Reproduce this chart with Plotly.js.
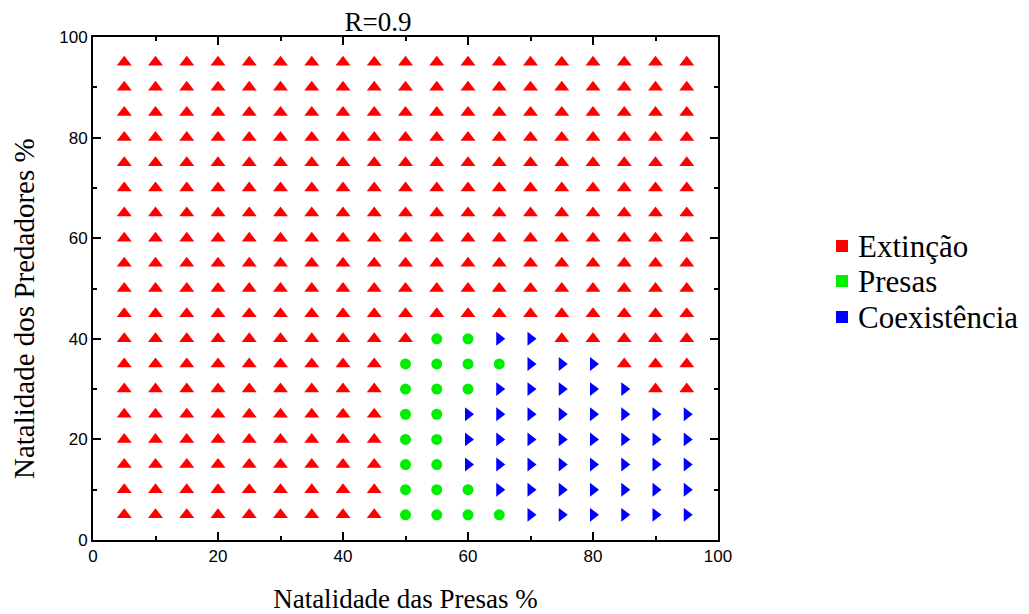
<!DOCTYPE html>
<html>
<head>
<meta charset="utf-8">
<script src="https://cdn.plot.ly/plotly-3.0.1.min.js"></script>
<style>html,body{margin:0;padding:0;background:#fff;}#chart{width:1029px;height:614px;}</style>
</head>
<body>
<div id="chart"></div>
<script>
// Grid values (%)
const preyBirth = [5,10,15,20,25,30,35,40,45,50,55,60,65,70,75,80,85,90,95];
const predBirth = [5,10,15,20,25,30,35,40,45,50,55,60,65,70,75,80,85,90,95];
// Outcome per row (one row per predator birth rate, columns follow preyBirth)
// E = Extinção, P = Presas, C = Coexistência
const outcomeRows = [
  "EEEEEEEEEPPPPCCCCCC", // 5
  "EEEEEEEEEPPPCCCCCCC", // 10
  "EEEEEEEEEPPCCCCCCCC", // 15
  "EEEEEEEEEPPCCCCCCCC", // 20
  "EEEEEEEEEPPCCCCCCCC", // 25
  "EEEEEEEEEPPPCCCCCEE", // 30
  "EEEEEEEEEPPPPCCCEEE", // 35
  "EEEEEEEEEEPPCCEEEEE", // 40
  "EEEEEEEEEEEEEEEEEEE", // 45
  "EEEEEEEEEEEEEEEEEEE", // 50
  "EEEEEEEEEEEEEEEEEEE", // 55
  "EEEEEEEEEEEEEEEEEEE", // 60
  "EEEEEEEEEEEEEEEEEEE", // 65
  "EEEEEEEEEEEEEEEEEEE", // 70
  "EEEEEEEEEEEEEEEEEEE", // 75
  "EEEEEEEEEEEEEEEEEEE", // 80
  "EEEEEEEEEEEEEEEEEEE", // 85
  "EEEEEEEEEEEEEEEEEEE", // 90
  "EEEEEEEEEEEEEEEEEEE"  // 95
];
const classCodes = ["E","P","C"];
const classNames = ["Extinção","Presas","Coexistência"];
const classColors = ["#ff0000","#00ee00","#0000ff"];
const classSymbols = ["triangle-up","circle","triangle-right"];
const classSizes = [13,11,12];

const SERIF = '"Liberation Serif", "Times New Roman", serif';
const SANS = '"Liberation Sans", Arial, sans-serif';

// plot-area geometry (pixels) used only for placing legend/title text
const W = 1029, H = 614, ML = 93, MR = 311, MT = 37, MB = 74;
const PW = W - ML - MR, PH = H - MT - MB;
const px = p => (p - ML) / PW;
const py = p => (H - MB - p) / PH;

const traces = [];
classCodes.forEach((code, k) => {
  const xs = [], ys = [];
  outcomeRows.forEach((row, j) => {
    for (let i = 0; i < row.length; i++) {
      if (row[i] === code) { xs.push(preyBirth[i]); ys.push(predBirth[j]); }
    }
  });
  traces.push({
    x: xs, y: ys, type: 'scatter', mode: 'markers', name: classNames[k], showlegend: false,
    marker: {color: classColors[k], symbol: classSymbols[k], size: classSizes[k], line: {width: 0}},
    hoverinfo: 'x+y'
  });
});

// legend drawn as square swatches + text
const legendRowsY = [246, 281, 317];
const shapes = [], annotations = [];
classNames.forEach((name, k) => {
  const cy = legendRowsY[k];
  shapes.push({type: 'rect', xref: 'paper', yref: 'paper',
    x0: px(836), x1: px(848), y0: py(cy + 6), y1: py(cy - 6),
    fillcolor: classColors[k], line: {width: 0}});
  annotations.push({text: name, xref: 'paper', yref: 'paper', x: px(856), y: py(cy),
    xanchor: 'left', yanchor: 'middle', showarrow: false,
    font: {family: SERIF, size: 31, color: '#000'}});
});
// y-axis title
annotations.push({text: 'Natalidade dos Predadores %', xref: 'paper', yref: 'paper',
  x: px(24), y: py(309), xanchor: 'center', yanchor: 'middle', textangle: -90, showarrow: false,
  font: {family: SERIF, size: 29, color: '#000'}});

const axisCommon = {
  range: [0, 100], dtick: 20, tick0: 0,
  showgrid: false, zeroline: false,
  showline: true, linecolor: '#000', linewidth: 2, mirror: 'ticks',
  ticks: 'inside', ticklen: 8, tickwidth: 2, tickcolor: '#000',
  tickfont: {family: SANS, size: 17, color: '#000'},
  minor: {ticks: 'inside', ticklen: 4, tickwidth: 2, dtick: 10, tickcolor: '#000', showgrid: false}
};

const layout = {
  width: W, height: H,
  font: {family: SERIF, size: 20, color: '#000'},
  margin: {l: ML, r: MR, t: MT, b: MB, pad: 0},
  paper_bgcolor: '#fff', plot_bgcolor: '#fff',
  title: {text: 'R=0.9', font: {family: SERIF, size: 27, color: '#000'},
          x: 378 / W, xanchor: 'center', xref: 'container', y: 0.965, yanchor: 'middle', yref: 'container'},
  xaxis: Object.assign({}, axisCommon, {
    title: {text: 'Natalidade das Presas %', font: {family: SERIF, size: 27, color: '#000'}, standoff: 26}
  }),
  yaxis: Object.assign({}, axisCommon),
  showlegend: false,
  shapes: shapes,
  annotations: annotations
};

Plotly.newPlot('chart', traces, layout, {staticPlot: true});
</script>
</body>
</html>
